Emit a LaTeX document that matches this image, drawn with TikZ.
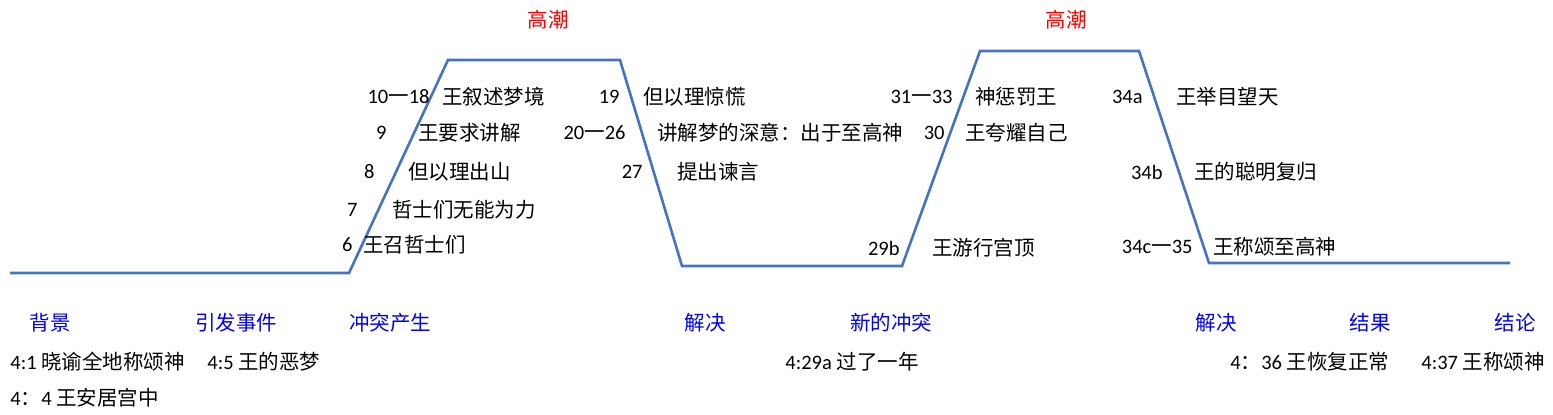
\documentclass[tikz,border=0pt]{standalone}
\usepackage{fontspec}
\setmainfont{Carlito}
\newfontfamily\zh{Noto Sans CJK SC}
\definecolor{plotblue}{RGB}{68,114,196}

\begin{document}
\begin{tikzpicture}[x=0.5pt,y=-0.5pt,
        plot/.style={draw=plotblue, line width=1.3pt},
        lbl/.style={inner sep=0pt, anchor=west, font=\fontsize{10.25}{12}\selectfont\zh},
        num/.style={inner sep=0pt, anchor=east, font=\fontsize{10.25}{12}\selectfont},
        stage/.style={inner sep=0pt, text=blue, font=\fontsize{10.25}{12}\selectfont\zh},
        peak/.style={inner sep=0pt, text=red, font=\fontsize{10.25}{12}\selectfont\zh}]
        \useasboundingbox (0,0) rectangle (1553,415);
        % the plot line
        \coordinate (p0) at (10,273);
        \coordinate (p1) at (349,273);
        \coordinate (p2) at (448,60);
        \coordinate (p3) at (620,60);
        \coordinate (p4) at (682,266);
        \coordinate (p5) at (902,266);
        \coordinate (p6) at (980,51);
        \coordinate (p7) at (1139,51);
        \coordinate (p8) at (1209,263);
        \coordinate (p9) at (1510,263);
        \draw[plot] (p0) -- (p1) -- (p2) -- (p3) -- (p4) -- (p5) -- (p6) -- (p7) -- (p8) -- (p9);
        \node[peak] (peakA) at (548,20) {高潮};
        \node[peak] (peakB) at (1066,20) {高潮};
        % rising action
        \node[num] (v6) at (353,245) {6};
        \node[lbl] (t6) at (363,245) {王召哲士们};
        \node[num] (v7) at (358,210) {7};
        \node[lbl] (t7) at (392,210) {哲士们无能为力};
        \node[num] (v8) at (375,172) {8};
        \node[lbl] (t8) at (408,172) {但以理出山};
        \node[num] (v9) at (387,133) {9};
        \node[lbl] (t9) at (418,133) {王要求讲解};
        \node[num] (v10) at (430,97) {10{\zh 一}18};
        \node[lbl] (t10) at (442,97) {王叙述梦境};
        % falling action
        \node[num] (v19) at (620,97) {19};
        \node[lbl] (t19) at (643,97) {但以理惊慌};
        \node[num] (v20) at (626,133) {20{\zh 一}26};
        \node[lbl] (t20) at (657,133) {讲解梦的深意：出于至高神};
        \node[num] (v27) at (643,172) {27};
        \node[lbl] (t27) at (677,172) {提出谏言};
        % second rise
        \node[num] (v29) at (900,248) {29b};
        \node[lbl] (t29) at (932,248) {王游行宫顶};
        \node[num] (v30) at (945,133) {30};
        \node[lbl] (t30) at (965,133) {王夸耀自己};
        \node[num] (v31) at (953,97) {31{\zh 一}33};
        \node[lbl] (t31) at (975,97) {神惩罚王};
        % second fall
        \node[num] (v34a) at (1143,97) {34a};
        \node[lbl] (t34a) at (1176,97) {王举目望天};
        \node[num] (v34b) at (1163,172) {34b};
        \node[lbl] (t34b) at (1194,172) {王的聪明复归};
        \node[num] (v34c) at (1193,247) {34c{\zh 一}35};
        \node[lbl] (t34c) at (1213,247) {王称颂至高神};
        % stages
        \node[stage] (s1) at (50,323) {背景};
        \node[stage] (s2) at (236,323) {引发事件};
        \node[stage] (s3) at (390,323) {冲突产生};
        \node[stage] (s4) at (705,323) {解决};
        \node[stage] (s5) at (891,323) {新的冲突};
        \node[stage] (s6) at (1216,323) {解决};
        \node[stage] (s7) at (1370,323) {结果};
        \node[stage] (s8) at (1515,323) {结论};
        % verses below
        \node[lbl, font=\fontsize{10.25}{12}\selectfont] (b1) at (10,362) {4:1 {\zh 晓谕全地称颂神}};
        \node[lbl, font=\fontsize{10.25}{12}\selectfont] (b2) at (207,362) {4:5 {\zh 王的恶梦}};
        \node[lbl, font=\fontsize{10.25}{12}\selectfont] (b3) at (10,398) {4{\zh ：}4 {\zh 王安居宫中}};
        \node[lbl, font=\fontsize{10.25}{12}\selectfont] (b4) at (785,362) {4:29a {\zh 过了一年}};
        \node[lbl, font=\fontsize{10.25}{12}\selectfont] (b5) at (1230,362) {4{\zh ：}36 {\zh 王恢复正常}};
        \node[lbl, font=\fontsize{10.25}{12}\selectfont] (b6) at (1421,362) {4:37 {\zh 王称颂神}};
\end{tikzpicture}
\end{document}
